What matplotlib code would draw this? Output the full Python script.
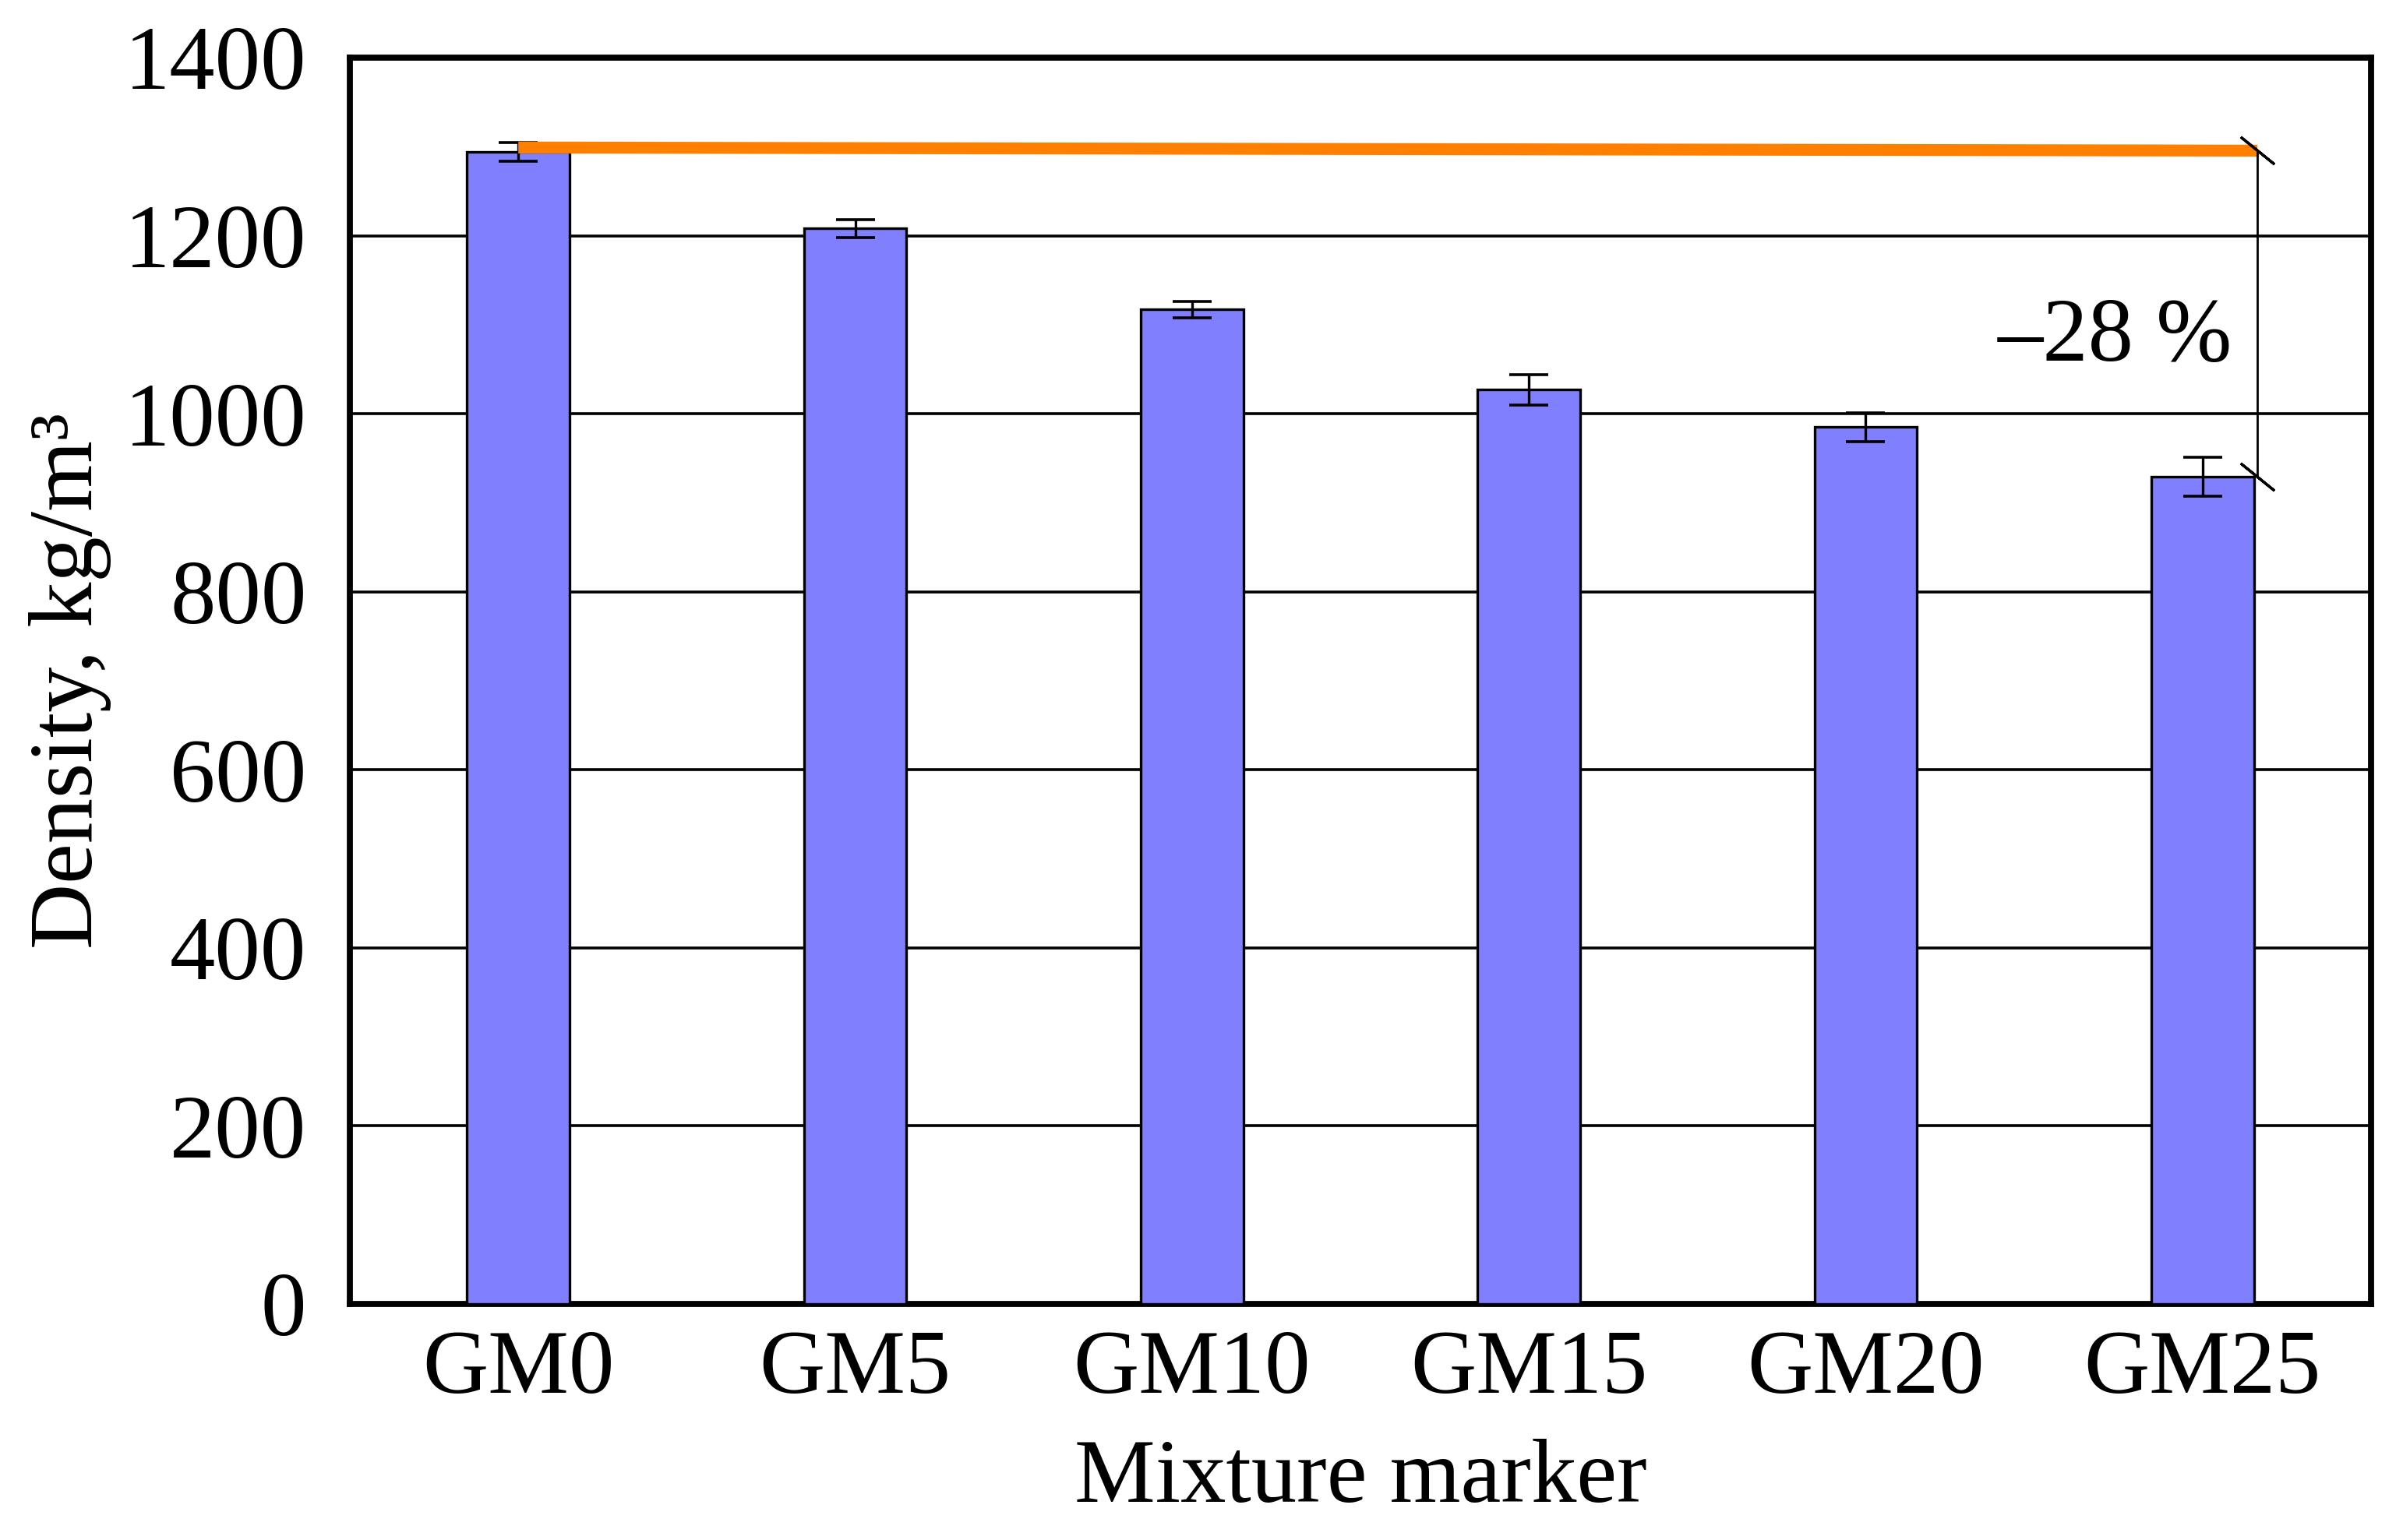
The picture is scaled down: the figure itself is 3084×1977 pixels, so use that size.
import matplotlib.pyplot as plt
import numpy as np

plt.rcParams['font.family'] = ['Liberation Serif', 'DejaVu Serif']

mixtures = ['GM0', 'GM5', 'GM10', 'GM15', 'GM20', 'GM25']
density = [1294, 1208, 1117, 1027, 985, 929]
density_err = [10.5, 10, 9.5, 17, 16, 22]
ref_line = [1299, 1295.5]
change_label = '–28 %'

fig = plt.figure(figsize=(15.42, 9.885), dpi=200)
ax = fig.add_axes([0.1456, 0.1533, 0.8411, 0.8093])

x = np.arange(len(mixtures))
bar_w = 0.305
ax.bar(x, density, width=bar_w, color='#8080ff', edgecolor='black', linewidth=1.2, zorder=3)
ax.errorbar(x, density, yerr=density_err, fmt='none', ecolor='black',
            elinewidth=1.2, capsize=9, capthick=1.3, zorder=4)

# orange reference line from GM0 to the last bar, with the dimension line
x_end = x[-1] + bar_w / 2 + 0.01
ax.plot([x[0], x_end], ref_line, color='#ff8000', lw=5.5, zorder=5, solid_capstyle='butt')
ax.plot([x_end, x_end], [ref_line[1], density[-1]], color='black', lw=1.0, zorder=5)
ax.plot([x_end, x_end], [ref_line[1], density[-1]], ls='none', marker=(2, 2, 51),
        markersize=20, mew=1.2, color='black', zorder=6)
ax.text(x_end - 0.075, 1060, change_label, ha='right', va='baseline', fontsize=42)

ax.set_xlim(-0.5, len(mixtures) - 0.5)
ax.set_ylim(0, 1400)
ax.set_yticks(range(0, 1401, 200))
ax.set_xticks(x)
ax.set_xticklabels(mixtures)
ax.tick_params(axis='both', length=0, labelsize=42)
ax.tick_params(axis='y', pad=20)
ax.tick_params(axis='x', pad=12)
ax.yaxis.grid(True, color='black', lw=1.3, zorder=0)
ax.set_axisbelow(True)
for s in ax.spines.values():
    s.set_linewidth(2.8)

ax.set_xlabel('Mixture marker', fontsize=42, labelpad=12)
ax.set_ylabel('Density, kg/m³', fontsize=42, labelpad=6)

fig.savefig('out.png', dpi=200)
